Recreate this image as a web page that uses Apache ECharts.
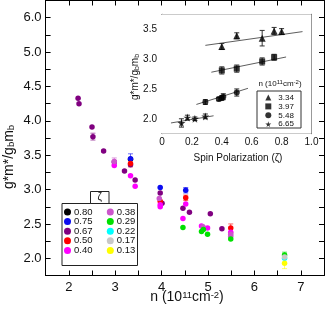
<!DOCTYPE html>
<html><head><meta charset="utf-8">
<script src="https://cdn.jsdelivr.net/npm/echarts@6/dist/echarts.min.js"></script>
<style>html,body{margin:0;padding:0;background:#fff}#c{width:327px;height:311px}</style>
</head><body><div id="c"></div>
<script>
// ---- main plot: g*m*/g_b m_b vs n, grouped by spin polarization zeta
const zetaLabels = ['0.80','0.75','0.67','0.50','0.40','0.38','0.29','0.22','0.17','0.13'];
const d080 = [[3.33,3.44]];
const d075 = [[3.33,3.45],[3.97,3.03],[4.52,2.99]];
const d067 = [[2.20,4.33],[2.22,4.25],[2.50,3.91],[2.52,3.77],[2.75,3.56],[2.98,3.40],[3.20,3.27],[3.33,3.36],[3.43,3.14],[3.97,2.95],[4.01,2.80],[4.46,2.73],[4.60,2.67],[5.05,2.65],[5.30,2.43]];
const d050 = [[3.33,3.38],[3.97,2.83],[4.52,2.88],[5.49,2.44]];
const d040 = [[2.98,3.35],[3.33,3.20],[3.43,3.05],[3.97,2.78],[3.97,2.75],[4.52,2.79],[4.46,2.58],[4.86,2.47],[4.99,2.44],[5.49,2.38]];
const d038 = [[2.98,3.41],[3.95,2.87],[4.89,2.46],[5.49,2.35],[5.49,2.32]];
const d029 = [[4.46,2.45],[4.86,2.39],[4.90,2.42],[4.99,2.35],[5.49,2.28],[6.65,2.05]];
const d022 = [[6.65,2.00]];
const d017 = [[6.65,2.02]];
const d013 = [[6.65,1.93]];
const mainData = [d080,d075,d067,d050,d040,d038,d029,d022,d017,d013];
// error bars: [zeta, n, value, error]
const mainErrors = [['0.75',3.33,3.45,0.07],['0.75',4.52,2.99,0.04],['0.67',2.52,3.77,0.05],['0.38',2.98,3.41,0.05],['0.50',3.33,3.38,0.05],['0.50',4.52,2.88,0.04],['0.50',5.49,2.44,0.06],['0.29',6.65,2.05,0.04],['0.13',6.65,1.93,0.08]];
const yTickValues = [2.0,2.5,3.0,3.5,4.0,4.5,5.0,5.5];
const yTickLabels = ['2.0','2.5','3.0','3.5','4.0','4.5','5.0','6.0'];
const xTickValues = [2,3,4,5,6,7];

// ---- inset: g*m*/g_b m_b vs zeta for several densities: [zeta, value, error]
const insetLabels = ['3.34','3.97','5.48','6.65'];
const in334 = [[0.40,3.21,0.05],[0.50,3.39,0.05],[0.67,3.35,0.13],[0.75,3.47,0.06],[0.80,3.46,0.05]];
const in397 = [[0.40,2.81,0.06],[0.50,2.84,0.06],[0.67,2.96,0.06],[0.75,3.03,0.05]];
const in548 = [[0.29,2.28,0.04],[0.38,2.33,0.03],[0.40,2.35,0.04],[0.41,2.37,0.05],[0.50,2.44,0.06]];
const in665 = [[0.13,1.93,0.07],[0.17,2.02,0.04],[0.22,2.00,0.03],[0.29,2.04,0.04]];
const fit334 = [[0.29,3.23],[0.94,3.46]];
const fit397 = [[0.33,2.78],[0.83,3.035]];
const fit548 = [[0.23,2.24],[0.575,2.51]];
const fit665 = [[0.06,1.93],[0.345,2.05]];
const insetData = [in334,in397,in548,in665];
const insetFits = [fit334,fit397,fit548,fit665];

// ---- styles
const zetaColors = ['#000000','#0c0cf0','#800080','#ff0000','#ff00ff','#cc55cc','#00e000','#00ffff','#c8c8c8','#ffff00'];
const STAR = 'path://M50,0 L61,35 L98,35 L68,57 L79,91 L50,70 L21,91 L32,57 L2,35 L39,35 Z';
const insetSymbols = ['triangle','rect','circle',STAR];
const insetSizes = [7,6,6,8];
const FONT = 'Liberation Sans, Arial, sans-serif';

function near(v,t){return Math.abs(v-t)<1e-6;}

function errRender(color, opacity){
  return function(params, api){
    const x=api.value(0), y=api.value(1), e=api.value(2);
    const p1=api.coord([x,y-e]), p2=api.coord([x,y+e]);
    const w=2.5;
    const st={stroke:color, lineWidth:1, opacity:opacity};
    return {type:'group', children:[
      {type:'line', shape:{x1:p1[0],y1:p1[1],x2:p2[0],y2:p2[1]}, style:st},
      {type:'line', shape:{x1:p1[0]-w,y1:p1[1],x2:p1[0]+w,y2:p1[1]}, style:st},
      {type:'line', shape:{x1:p2[0]-w,y1:p2[1],x2:p2[0]+w,y2:p2[1]}, style:st}
    ]};
  };
}

const series = [];
zetaLabels.forEach((z,i)=>{
  const errs = mainErrors.filter(r=>r[0]===z).map(r=>[r[1],r[2],r[3]]);
  if(errs.length) series.push({type:'custom', name:'err'+z, xAxisIndex:0, yAxisIndex:0, data:errs, renderItem:errRender(zetaColors[i],0.6), z:2, silent:true});
});
zetaLabels.forEach((z,i)=>{
  series.push({type:'scatter', name:z, xAxisIndex:0, yAxisIndex:0, data:mainData[i], symbol:'circle', symbolSize:5.5, itemStyle:{color:zetaColors[i], opacity:1}, z:3});
});
insetLabels.forEach((n,i)=>{
  series.push({type:'line', name:'fit'+n, xAxisIndex:2, yAxisIndex:2, data:insetFits[i], showSymbol:false, symbol:'none', lineStyle:{color:'#333', width:0.8}, z:2, silent:true});
  series.push({type:'custom', name:'ierr'+n, xAxisIndex:2, yAxisIndex:2, data:insetData[i], renderItem:errRender('#333',1), z:3, silent:true});
  series.push({type:'scatter', name:n, xAxisIndex:2, yAxisIndex:2, data:insetData[i].map(r=>[r[0],r[1]]), symbol:insetSymbols[i], symbolSize:insetSizes[i], itemStyle:{color:'#000'}, z:4});
});

const axisCommon = {axisLine:{show:true,onZero:false,lineStyle:{color:'#000',width:1}}, splitLine:{show:false}};
const insLine = {axisLine:{show:true,onZero:false,lineStyle:{color:'#333',width:1}}};
const mainX = {min:1.5,max:7.5,interval:0.5};
const mainY = {min:1.75,max:5.75,interval:0.25};
const insX = {min:0,max:1,interval:0.1};
const insY = {min:1.75,max:3.75,interval:0.25};
const legText = {fontSize:9.5, color:'#111', fontFamily:FONT, padding:[0,0,0,-2]};

const option = {
  animation:false,
  backgroundColor:'#fff',
  textStyle:{fontFamily:FONT},
  grid:[
    {left:45.6, right:1, top:0.5, bottom:35.5},
    {left:162, width:149.5, top:14.3, height:119.4, show:true, backgroundColor:'#fff', borderWidth:0, z:1}
  ],
  xAxis:[
    Object.assign({type:'value', gridIndex:0, position:'bottom',
      axisTick:{inside:true,length:5,lineStyle:{color:'#000'}},
      axisLabel:{margin:5, fontSize:13, color:'#111', fontFamily:FONT, showMinLabel:true, showMaxLabel:true,
        formatter:v=>{const k=xTickValues.findIndex(t=>near(v,t)); return k>=0?String(xTickValues[k]):'';}}}, mainX, axisCommon),
    Object.assign({type:'value', gridIndex:0, position:'top', axisTick:{inside:true,length:5,lineStyle:{color:'#000'}}, axisLabel:{show:false}}, mainX, axisCommon),
    Object.assign({type:'value', gridIndex:1, position:'bottom',
      axisTick:{inside:true,length:3,lineStyle:{color:'#333'}},
      axisLabel:{margin:4, fontSize:10, color:'#111', fontFamily:FONT, showMinLabel:true, showMaxLabel:true,
        formatter:v=>{ if(near(v,0)) return '0'; const r=Math.round(v*5); return near(v*5,r)?(r/5).toFixed(1):''; }}}, insX, axisCommon, insLine),
    Object.assign({type:'value', gridIndex:1, position:'top', axisTick:{inside:true,length:3,lineStyle:{color:'#333'}}, axisLabel:{show:false}}, insX, axisCommon, insLine)
  ],
  yAxis:[
    Object.assign({type:'value', gridIndex:0, position:'left',
      axisTick:{inside:true,length:5,lineStyle:{color:'#000'}},
      axisLabel:{margin:4, fontSize:13, color:'#111', fontFamily:FONT,
        formatter:v=>{const k=yTickValues.findIndex(t=>near(v,t)); return k>=0?yTickLabels[k]:'';}}}, mainY, axisCommon),
    Object.assign({type:'value', gridIndex:0, position:'right', axisTick:{inside:true,length:5,lineStyle:{color:'#000'}}, axisLabel:{show:false}}, mainY, axisCommon),
    Object.assign({type:'value', gridIndex:1, position:'left',
      axisTick:{inside:true,length:3,lineStyle:{color:'#333'}},
      axisLabel:{margin:5, fontSize:10, color:'#111', fontFamily:FONT,
        formatter:v=>{const r=Math.round(v*2); return near(v*2,r)?(r/2).toFixed(1):'';}}}, insY, axisCommon, insLine),
    Object.assign({type:'value', gridIndex:1, position:'right', axisTick:{inside:true,length:3,lineStyle:{color:'#333'}}, axisLabel:{show:false}}, insY, axisCommon, insLine)
  ],
  legend:[
    {data:zetaLabels.slice(0,5), orient:'vertical', left:64, top:207, itemWidth:7, itemHeight:7, itemGap:-0.4, padding:0, icon:'circle', selectedMode:false, textStyle:legText},
    {data:zetaLabels.slice(5), orient:'vertical', left:106.8, top:207, itemWidth:7, itemHeight:7, itemGap:-0.4, padding:0, icon:'circle', selectedMode:false, textStyle:legText},
    {data:insetLabels, orient:'vertical', left:265.3, top:93.5, itemWidth:6, itemHeight:6, itemGap:0.9, padding:0, selectedMode:false,
      textStyle:{fontSize:8, color:'#111', fontFamily:FONT, padding:[0,0,0,2]}}
  ],
  graphic:[
    {type:'text', x:9, y:157, rotation:Math.PI/2, z:10,
      style:{text:'{a|g*m*/g}{s|b}{a|m}{s|b}', align:'center', verticalAlign:'middle',
        rich:{a:{fontSize:14, fontFamily:FONT, fill:'#111'}, s:{fontSize:9.5, fontFamily:FONT, fill:'#111', verticalAlign:'bottom', padding:[5,0,0,0]}}}},
    {type:'text', x:187, y:297.5, z:10,
      style:{text:'{a|n (10}{s|11}{a|cm}{s|-2}{a|)}', align:'center', verticalAlign:'middle',
        rich:{a:{fontSize:14, fontFamily:FONT, fill:'#111'}, s:{fontSize:9.5, fontFamily:FONT, fill:'#111', verticalAlign:'top', padding:[0,0,5,0]}}}},
    {type:'text', x:135, y:77, rotation:Math.PI/2, z:10,
      style:{text:'{a|g*m*/g}{s|b}{a|m}{s|b}', align:'center', verticalAlign:'middle',
        rich:{a:{fontSize:10, fontFamily:FONT, fill:'#111'}, s:{fontSize:7, fontFamily:FONT, fill:'#111', verticalAlign:'bottom', padding:[4,0,0,0]}}}},
    {type:'text', x:238, y:158, z:10,
      style:{text:'Spin Polarization (ζ)', align:'center', verticalAlign:'middle', fontSize:10, fontFamily:FONT, fill:'#111'}},
    {type:'rect', shape:{x:62,y:203.5,width:75.5,height:62}, style:{fill:'none', stroke:'#222', lineWidth:1}, z:10},
    {type:'rect', shape:{x:90.5,y:191.5,width:18.5,height:12}, style:{fill:'#fff', stroke:'#222', lineWidth:1}, z:10},
    {type:'text', x:99.75, y:197.5, z:11, style:{text:'ζ', align:'center', verticalAlign:'middle', fontSize:10, fontFamily:FONT, fill:'#111'}},
    {type:'rect', shape:{x:257,y:91,width:44,height:37}, style:{fill:'none', stroke:'#333', lineWidth:1}, z:10},
    {type:'text', x:280, y:83.5, z:10,
      style:{text:'{a|n (10}{s|11}{a|cm}{s|-2}{a|)}', align:'center', verticalAlign:'middle',
        rich:{a:{fontSize:8, fontFamily:FONT, fill:'#111'}, s:{fontSize:6, fontFamily:FONT, fill:'#111', verticalAlign:'top', padding:[0,0,3,0]}}}}
  ],
  series:series
};
const chart = echarts.init(document.getElementById('c'), null, {renderer:'canvas'});
chart.setOption(option);
</script></body></html>
